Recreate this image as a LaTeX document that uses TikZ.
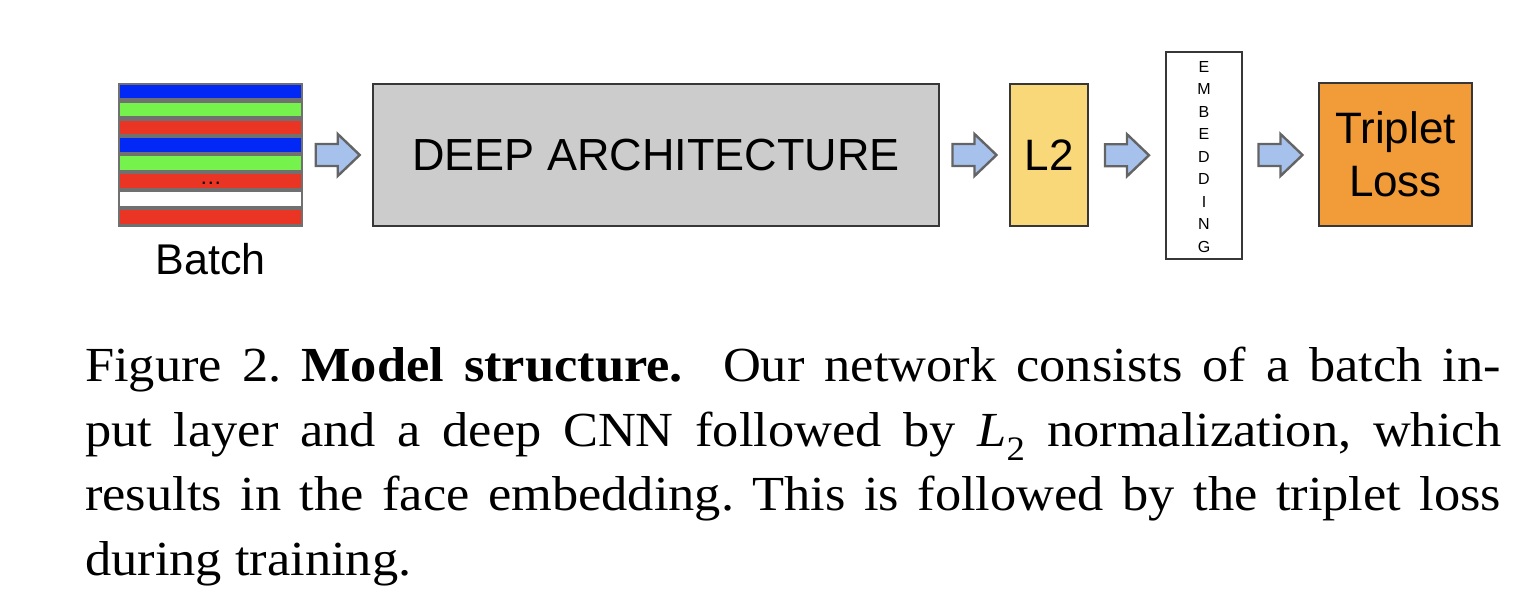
\documentclass[tikz,border=0pt]{standalone}
\usepackage{fontspec}
\setmainfont{Liberation Serif}
\newfontfamily\arial{Liberation Sans}
\newfontfamily\capfont[FakeStretch=1.07]{Liberation Serif}
\usetikzlibrary{calc}
\definecolor{sblue}{RGB}{2,40,245}
\definecolor{sgreen}{RGB}{118,242,76}
\definecolor{sred}{RGB}{234,52,36}
\definecolor{stripgray}{RGB}{112,112,112}
\definecolor{boxline}{RGB}{55,55,55}
\definecolor{deepfill}{RGB}{204,204,204}
\definecolor{ltwofill}{RGB}{249,216,121}
\definecolor{tripfill}{RGB}{241,156,57}
\definecolor{arrowfill}{RGB}{166,194,236}
\definecolor{arrowline}{RGB}{100,100,100}
\newcommand\blockarrowat[1]{%
  \draw[blockarrow] ([shift={(-22,-11)}]#1) -- ++(22,0) -- ++(0,-10) -- ++(22,21)
     -- ++(-22,21) -- ++(0,-10) -- ++(-22,0) -- cycle;}
\begin{document}
\begin{tikzpicture}[x=1pt,y=-1pt,
  box/.style={draw=boxline, line width=1.5pt, inner sep=0pt, align=center,
              font=\arial\fontsize{44}{53}\selectfont},
  blockarrow/.style={draw=arrowline, fill=arrowfill, line width=2.4pt, line join=miter}]
\useasboundingbox (0,0) rectangle (1532,609);

% batch
\node[fill=stripgray, minimum width=185pt, minimum height=144pt, inner sep=0pt] (batch) at (210.5,155) {};
\foreach \i/\c in {0/sblue,1/sgreen,2/sred,3/sblue,4/sgreen,5/sred,6/white,7/sred}
  \fill[\c] ($(batch.north west)+(2,{2+17.9*\i})$) rectangle ++(181,13.6);
\node[inner sep=0pt, font=\arial\fontsize{22}{22}\selectfont] (dots) at ($(batch.north west)+(93,101)$) {…};
\node[anchor=base, inner sep=0pt, font=\arial\fontsize{43}{43}\selectfont] (batchlbl) at (210.5,275) {Batch};

% blocks
\node[box, fill=deepfill, minimum width=566pt, minimum height=142pt, font=\arial\fontsize{45}{53}\selectfont] (deep) at (656,155) {DEEP ARCHITECTURE};
\node[box, fill=ltwofill, minimum width=78pt, minimum height=142pt] (ltwo) at (1049,155) {L2};
\node[box, fill=white, minimum width=76pt, minimum height=207pt] (emb) at (1204,155.5) {};
\node[inner sep=0pt, align=center, font=\arial\fontsize{16}{22.5}\selectfont] (embtext) at (1204,157) {E\\M\\B\\E\\D\\D\\I\\N\\G};
\node[box, fill=tripfill, minimum width=153pt, minimum height=143pt] (trip) at (1395.5,154.5) {Triplet\\Loss};

% block arrows
\coordinate (a1) at ($(batch.east)!0.5!(deep.west)$);
\coordinate (a2) at ($(deep.east)!0.5!(ltwo.west)$);
\coordinate (a3) at ($(ltwo.east)!0.5!(emb.west)$);
\coordinate (a4) at ($(emb.east)!0.5!(trip.west)$);
\blockarrowat{a1}
\blockarrowat{a2}
\blockarrowat{a3}
\blockarrowat{a4}

% caption
\node[anchor=north west, inner sep=0pt, text width=1416pt, align=justify,
      font=\capfont\fontsize{49}{64.5}\selectfont\frenchspacing] (caption) at (85,347)
  {Figure 2. \textbf{Model structure.}\ \ Our network consists of a batch in-\linebreak
   put layer and a deep CNN followed by \textit{L}\textsubscript{2} normalization, which\linebreak
   results in the face embedding. This is followed by the triplet loss\linebreak
   during training.};
\end{tikzpicture}
\end{document}
